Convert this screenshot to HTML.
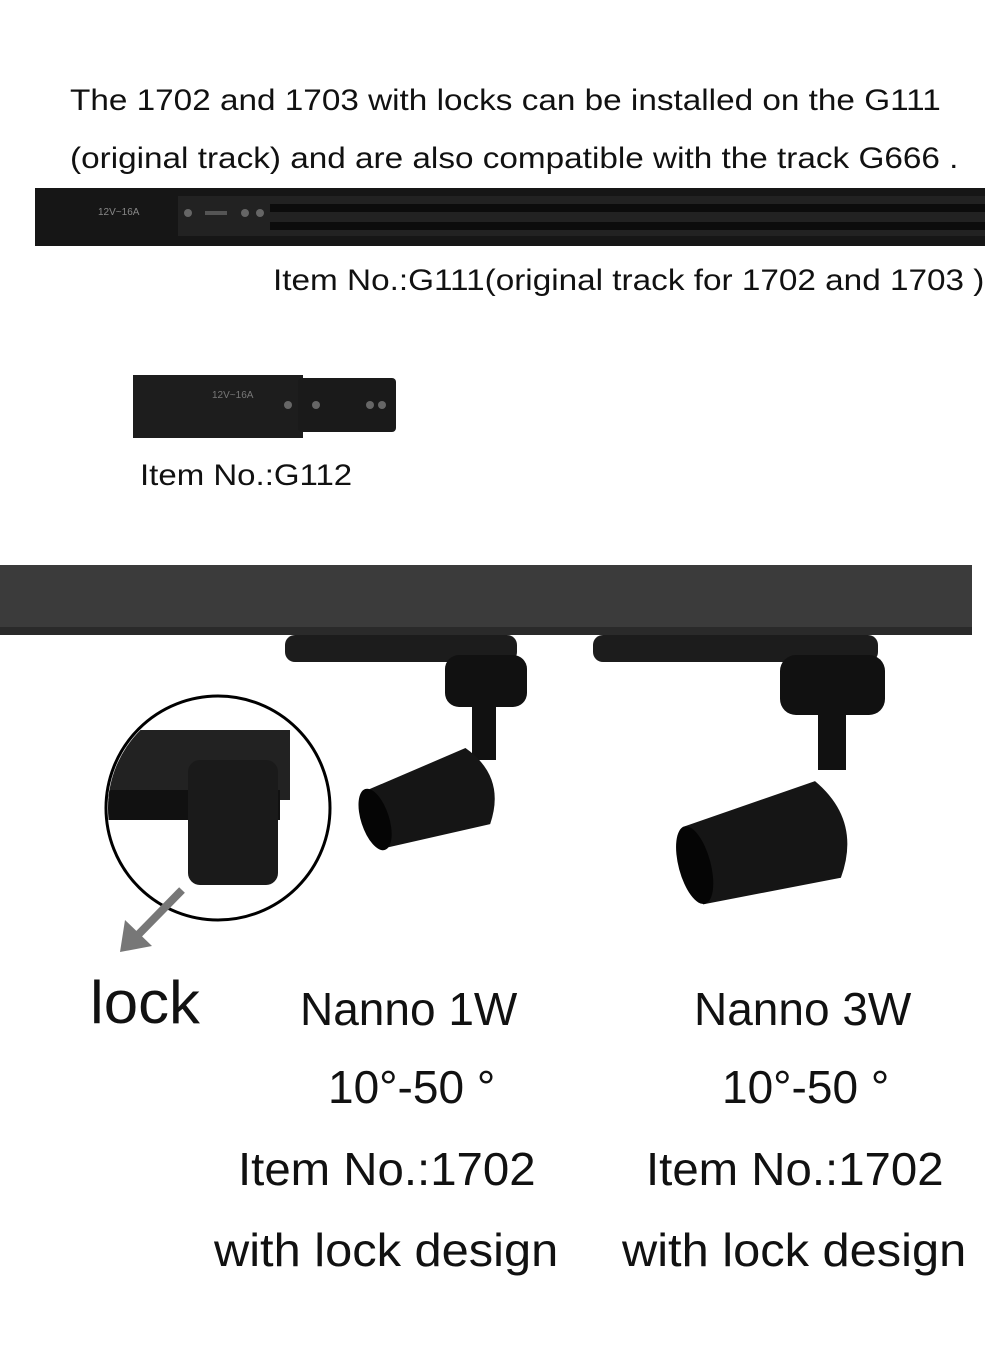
<!DOCTYPE html>
<html><head><meta charset="utf-8"><style>
html,body{margin:0;padding:0;background:#fff;}
body{width:1000px;height:1345px;position:relative;overflow:hidden;font-family:"Liberation Sans","DejaVu Sans",sans-serif;color:#111;}
.t{position:absolute;white-space:nowrap;transform-origin:0 0;}
</style></head><body>
<div class="t" style="left:70px;top:84px;font-size:30px;transform:scaleX(1.11)">The 1702 and 1703 with locks can be installed on the G111</div>
<div class="t" style="left:70px;top:142px;font-size:30px;transform:scaleX(1.11)">(original track) and are also compatible with the track G666 .</div>
<div class="t" style="left:273px;top:264px;font-size:30px;transform:scaleX(1.11)">Item No.:G111(original track for 1702 and 1703 )</div>
<div class="t" style="left:140px;top:459px;font-size:30px;transform:scaleX(1.1)">Item No.:G112</div>
<svg style="position:absolute;left:0;top:0" width="1000" height="1345">
 <rect x="35" y="188" width="950" height="58" fill="#161616"/>
 <rect x="178" y="196" width="807" height="40" fill="#222"/>
 <rect x="270" y="204" width="715" height="8" fill="#0c0c0c"/>
 <rect x="270" y="222" width="715" height="8" fill="#0c0c0c"/>
 <text x="98" y="215" font-size="10" fill="#888" font-family="Liberation Sans">12V~16A</text>
 <circle cx="188" cy="213" r="4" fill="#666"/><circle cx="245" cy="213" r="4" fill="#666"/><circle cx="260" cy="213" r="4" fill="#666"/>
 <rect x="205" y="211" width="22" height="4" fill="#555"/>
 <rect x="133" y="375" width="170" height="63" fill="#1d1d1d"/>
 <rect x="298" y="378" width="98" height="54" rx="4" fill="#1a1a1a"/>
 <text x="212" y="398" font-size="10" fill="#777" font-family="Liberation Sans">12V~16A</text>
 <circle cx="288" cy="405" r="4" fill="#666"/><circle cx="316" cy="405" r="4" fill="#666"/><circle cx="370" cy="405" r="4" fill="#666"/><circle cx="382" cy="405" r="4" fill="#666"/>
 <rect x="0" y="565" width="972" height="70" fill="#3b3b3b"/>
 <rect x="0" y="627" width="972" height="8" fill="#2a2a2a"/>
 <rect x="285" y="635" width="232" height="27" rx="10" fill="#1c1c1c"/>
 <rect x="445" y="655" width="82" height="52" rx="14" fill="#111"/>
 <rect x="472" y="700" width="24" height="60" fill="#111"/>
 <g transform="rotate(-18 435 800)"><path d="M370 770 L480 760 Q510 800 480 840 L370 830 Z" fill="#151515"/><ellipse cx="372" cy="800" rx="14" ry="32" fill="#050505"/></g>
 <rect x="593" y="635" width="285" height="27" rx="10" fill="#1c1c1c"/>
 <rect x="780" y="655" width="105" height="60" rx="16" fill="#111"/>
 <rect x="818" y="710" width="28" height="60" fill="#111"/>
 <g transform="rotate(-15 770 845)"><path d="M690 805 L830 795 Q865 845 830 895 L690 885 Z" fill="#151515"/><ellipse cx="692" cy="845" rx="16" ry="40" fill="#050505"/></g>
 <circle cx="218" cy="808" r="112" fill="#fff" stroke="#000" stroke-width="3"/>
 <clipPath id="c"><circle cx="218" cy="808" r="110"/></clipPath>
 <g clip-path="url(#c)">
  <rect x="100" y="730" width="190" height="70" fill="#222"/>
  <rect x="100" y="790" width="180" height="30" fill="#111"/>
  <rect x="188" y="760" width="90" height="125" rx="12" fill="#1a1a1a"/>
 </g>
 <line x1="182" y1="890" x2="133" y2="940" stroke="#777" stroke-width="8"/>
 <polygon points="120,952 125,920 152,946" fill="#777"/>
</svg>
<div class="t" style="left:90px;top:968px;font-size:60px;transform:scaleX(1.03)">lock</div>
<div class="t" style="left:300px;top:982px;font-size:46px;">Nanno 1W</div>
<div class="t" style="left:328px;top:1060px;font-size:46px;">10°-50 °</div>
<div class="t" style="left:238px;top:1142px;font-size:46px;transform:scaleX(1.03)">Item No.:1702</div>
<div class="t" style="left:214px;top:1223px;font-size:46px;transform:scaleX(1.06)">with lock design</div>
<div class="t" style="left:694px;top:982px;font-size:46px;">Nanno 3W</div>
<div class="t" style="left:722px;top:1060px;font-size:46px;">10°-50 °</div>
<div class="t" style="left:646px;top:1142px;font-size:46px;transform:scaleX(1.03)">Item No.:1702</div>
<div class="t" style="left:622px;top:1223px;font-size:46px;transform:scaleX(1.06)">with lock design</div>
</body></html>
